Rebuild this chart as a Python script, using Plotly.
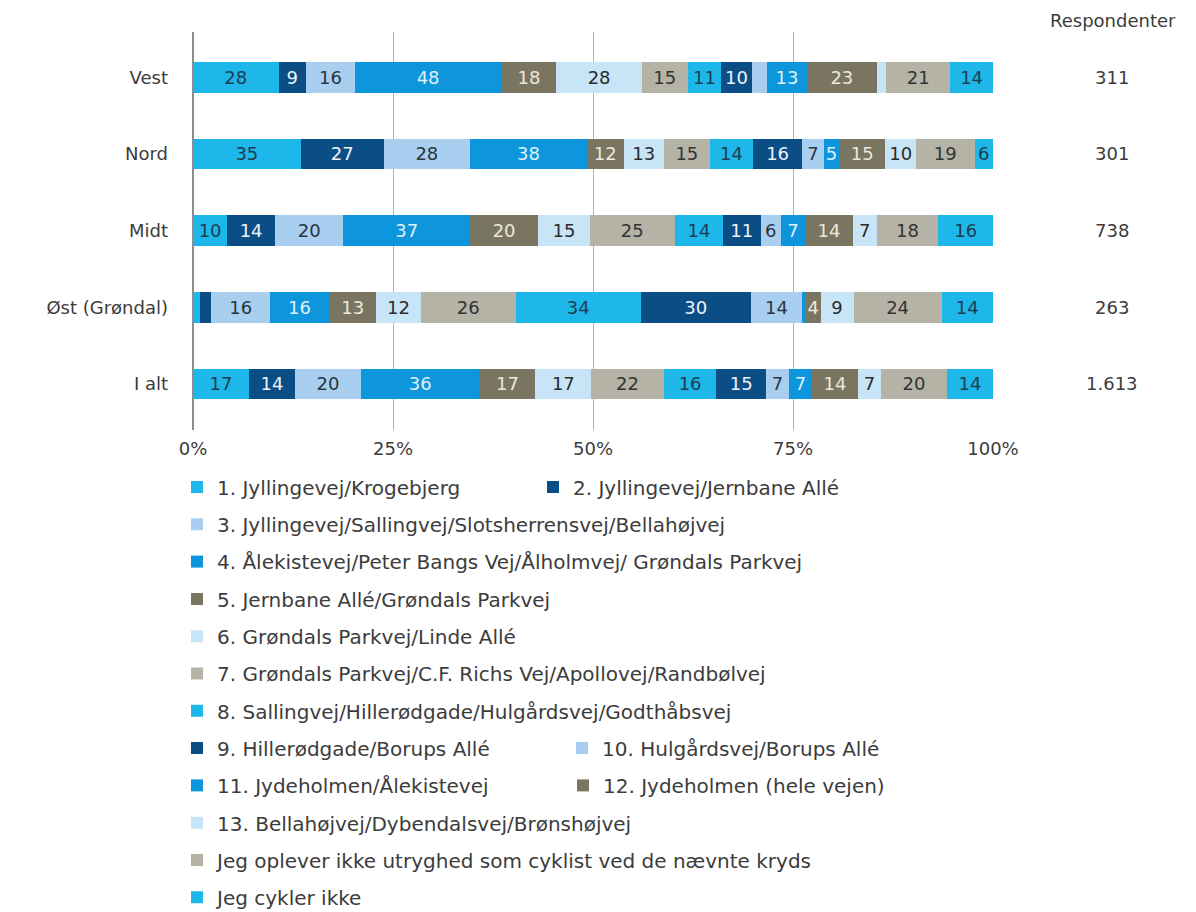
import plotly.graph_objects as go

# --- data -------------------------------------------------------------------
areas = ["Vest", "Nord", "Midt", "Øst (Grøndal)", "I alt"]
respondenter = ["311", "301", "738", "263", "1.613"]

categories = [
    "1. Jyllingevej/Krogebjerg",
    "2. Jyllingevej/Jernbane Allé",
    "3. Jyllingevej/Sallingvej/Slotsherrensvej/Bellahøjvej",
    "4. Ålekistevej/Peter Bangs Vej/Ålholmvej/ Grøndals Parkvej",
    "5. Jernbane Allé/Grøndals Parkvej",
    "6. Grøndals Parkvej/Linde Allé",
    "7. Grøndals Parkvej/C.F. Richs Vej/Apollovej/Randbølvej",
    "8. Sallingvej/Hillerødgade/Hulgårdsvej/Godthåbsvej",
    "9. Hillerødgade/Borups Allé",
    "10. Hulgårdsvej/Borups Allé",
    "11. Jydeholmen/Ålekistevej",
    "12. Jydeholmen (hele vejen)",
    "13. Bellahøjvej/Dybendalsvej/Brønshøjvej",
    "Jeg oplever ikke utryghed som cyklist ved de nævnte kryds",
    "Jeg cykler ikke",
]

vest = [28, 9, 16, 48, 18, 28, 15, 11, 10, 5, 13, 23, 3, 21, 14]
nord = [35, 27, 28, 38, 12, 13, 15, 14, 16, 7, 5, 15, 10, 19, 6]
midt = [10, 14, 20, 37, 20, 15, 25, 14, 11, 6, 7, 14, 7, 18, 16]
oest = [2, 3, 16, 16, 13, 12, 26, 34, 30, 14, 1, 4, 9, 24, 14]
i_alt = [17, 14, 20, 36, 17, 17, 22, 16, 15, 7, 7, 14, 7, 20, 14]
rows = [vest, nord, midt, oest, i_alt]

# segments that carry no value label in the original
unlabeled = {(0, 9), (0, 12), (3, 0), (3, 1), (3, 10)}

# --- styling ----------------------------------------------------------------
FONT = "DejaVu Sans"
CYAN, NAVY, LIGHT, BLUE, BROWN, PALE, GREY = (
    "#1db7ea", "#0b4d85", "#a9cff0", "#0e96dc", "#7a7560", "#c7e5f7", "#b4b3a6",
)
colors = [CYAN, NAVY, LIGHT, BLUE, BROWN, PALE, GREY,
          CYAN, NAVY, LIGHT, BLUE, BROWN, PALE, GREY, CYAN]
text_colors = {CYAN: "#1d3e52", NAVY: "#eef3f8", LIGHT: "#2b3540", BLUE: "#dff0fb",
               BROWN: "#ece8da", PALE: "#2b2b2b", GREY: "#333333"}

# legend placement: (row, x of text in screen px)
legend_pos = [(0, 217), (0, 573), (1, 217), (2, 217), (3, 217), (4, 217), (5, 217),
              (6, 217), (7, 217), (7, 602), (8, 217), (8, 603), (9, 217), (10, 217), (11, 217)]

# the page body has an 8px margin, so the figure starts at (8, 8) on screen
OFF = 8
W, H = 1196 - OFF, 912 - OFF
PLOT_L, PLOT_R, PLOT_T, PLOT_B = 193 - OFF, 993 - OFF, 32 - OFF, 430 - OFF
TEXT_GAP = 40  # distance from legend box edge to its text


def px_to_paper_x(px):
    return (px - OFF - PLOT_L) / (PLOT_R - PLOT_L)


def px_to_paper_y(py):
    return (PLOT_B - (py - OFF)) / (PLOT_B - PLOT_T)


fig = go.Figure()
legends = {}
for i, name in enumerate(categories):
    vals = [r[i] for r in rows]
    labels = ["" if (j, i) in unlabeled else str(v) for j, v in enumerate(vals)]
    leg_id = "legend" if i == 0 else f"legend{i + 1}"
    fig.add_trace(
        go.Bar(
            y=areas,
            x=vals,
            orientation="h",
            name=name,
            marker={"color": colors[i], "line": {"width": 0}},
            text=labels,
            textposition="inside",
            insidetextanchor="middle",
            textangle=0,
            insidetextfont={"family": FONT, "size": 18, "color": text_colors[colors[i]]},
            legend=leg_id,
            hovertemplate="%{y}: %{x}<extra>" + name + "</extra>",
        )
    )
    row, tx = legend_pos[i]
    legends[leg_id] = {
        "xref": "container",
        "yref": "container",
        "x": (tx - OFF - TEXT_GAP) / W,
        "y": 1 - (487 - OFF + 37.3 * row) / H,
        "xanchor": "left",
        "yanchor": "middle",
        "orientation": "h",
        "bgcolor": "rgba(0,0,0,0)",
        "font": {"family": FONT, "size": 20, "color": "#3c3c3c"},
    }

annotations = [
    {"text": "Respondenter", "xref": "paper", "yref": "paper", "xanchor": "center",
     "yanchor": "middle", "x": px_to_paper_x(1113), "y": px_to_paper_y(20),
     "showarrow": False, "font": {"family": FONT, "size": 18, "color": "#3c3c3c"}}
]
for area, n in zip(areas, respondenter):
    annotations.append(
        {"text": n, "xref": "paper", "yref": "y", "xanchor": "center", "yanchor": "middle",
         "x": px_to_paper_x(1112), "y": area, "showarrow": False,
         "font": {"family": FONT, "size": 18, "color": "#3c3c3c"}}
    )

fig.update_layout(
    width=W,
    height=H,
    barmode="stack",
    barnorm="percent",
    bargap=0.6,
    showlegend=True,
    paper_bgcolor="white",
    plot_bgcolor="white",
    font={"family": FONT, "color": "#3c3c3c"},
    margin={"l": PLOT_L, "r": W - PLOT_R, "t": PLOT_T, "b": H - PLOT_B},
    uniformtext={"minsize": 18, "mode": "show"},
    annotations=annotations,
    **legends,
)
fig.update_xaxes(
    range=[0, 100],
    tick0=0,
    dtick=25,
    ticksuffix="%",
    showgrid=True,
    gridcolor="#b3b3b3",
    gridwidth=1,
    zeroline=True,
    zerolinecolor="#8c8c8c",
    zerolinewidth=1.5,
    tickfont={"family": FONT, "size": 18, "color": "#3c3c3c"},
    ticklabelstandoff=6,
    automargin=False,
    fixedrange=True,
)
fig.update_yaxes(
    categoryorder="array",
    categoryarray=areas,
    range=[4.6, -0.59],
    showgrid=False,
    tickfont={"family": FONT, "size": 18, "color": "#3c3c3c"},
    ticklabelstandoff=24,
    automargin=False,
    fixedrange=True,
)

fig.write_html("out.html")
